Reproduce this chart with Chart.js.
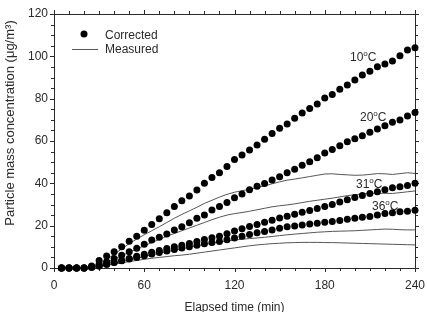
<!DOCTYPE html>
<html>
<head>
<meta charset="utf-8">
<script src="https://cdn.jsdelivr.net/npm/chart.js"></script>
<style>
  html, body { margin: 0; padding: 0; background: #fff; }
  #wrap { width: 427px; height: 312px; position: relative; }
</style>
</head>
<body>
<div id="wrap"><canvas id="chart" width="427" height="312"></canvas></div>
<script>
// Elapsed time (min)
const times = [5, 10, 15, 20, 25, 30, 35, 40, 45, 50, 55, 60, 65, 70, 75, 80, 85, 90, 95, 100,
  105, 110, 115, 120, 125, 130, 135, 140, 145, 150, 155, 160, 165, 170, 175, 180, 185, 190, 195, 200,
  205, 210, 215, 220, 225, 230, 235, 240];

// Corrected concentrations (dots)
const corr10 = [0, 0, 0, 0, 1, 3.5, 5.7, 7.7, 10, 12.6, 15, 17.8, 20.5, 23.3, 26.1, 29, 31.8, 34, 36.8, 40,
  42.8, 45, 47.9, 51.3, 53.4, 55.7, 58.1, 60.8, 63.6, 66, 68, 70.7, 73.2, 75.4, 77.5, 80.3, 82, 84.5, 86.4, 88.8,
  91.2, 93, 95.1, 96.4, 97.8, 100.3, 103, 104];
const corr20 = [0, 0, 0, 0, 0.5, 1.8, 3, 4.5, 6, 7.7, 9.3, 11.2, 13.2, 14.5, 16.1, 18, 19.5, 21.4, 23.5, 25,
  27.4, 29, 30.9, 33.2, 35, 37, 38.6, 39.9, 41.6, 43.1, 45, 46.6, 48.6, 50.2, 52.1, 54.3, 56, 57.8, 59.6, 61.1,
  62.5, 64.1, 65.7, 67.2, 68.8, 69.9, 71.8, 73.5];
const corr31 = [0, 0, 0, 0, 0.3, 1, 1.8, 2.7, 3.6, 4.5, 5.5, 6.5, 7.4, 8.3, 9.2, 10, 10.8, 11.6, 12.5, 13.5,
  14.3, 15, 16.2, 17.5, 18.5, 19.6, 20.6, 21.6, 22.6, 23.6, 24.4, 25.4, 26.3, 27.2, 28.1, 29, 30, 31.2, 32.3, 33.3,
  34.3, 35.2, 36, 37, 37.9, 38.4, 39, 40];
const corr36 = [0, 0, 0, 0, 0.3, 1, 1.8, 2.6, 3.4, 4.2, 5, 5.8, 6.6, 7.3, 8, 8.7, 9.4, 10, 10.7, 11.4,
  12, 12.5, 13.4, 14.2, 15, 15.8, 16.6, 17.3, 18, 18.8, 19.5, 19.9, 20.3, 20.8, 21.2, 21.6, 22, 22.5, 23, 23.5,
  24, 24.3, 25, 25.7, 26.1, 26.6, 26.8, 27.3];

// Measured concentrations (thin lines)
const measA = [0, 0, 0, 0, 0.5, 2, 4, 6.5, 9, 11.5, 13.7, 15.7, 17.6, 19.5, 21.5, 23.5, 25.3, 27, 28.7, 30.5,
  32, 33.5, 34.8, 35.8, 36.5, 37.2, 38, 38.8, 39.8, 40.7, 41.5, 42, 42.6, 43.2, 43.8, 44.4, 44.5, 44.2, 44, 43.8,
  43.9, 44.2, 44.6, 44.5, 44.2, 44.6, 45, 44.7];
const measB = [0, 0, 0, 0, 0.3, 1.3, 2.7, 4.2, 5.8, 7.4, 9, 10.5, 12, 13.5, 15, 16.3, 17.6, 18.9, 20.2, 21.5,
  22.8, 24, 25, 25.7, 26.2, 26.8, 27.5, 28.2, 28.9, 29.4, 29.8, 30.3, 30.9, 31.5, 32, 32.5, 33, 33.6, 34.2, 34.6,
  35, 35.3, 35.3, 35.3, 35.2, 35.6, 36, 36.4];
const measC = [0, 0, 0, 0, 0.2, 0.8, 1.5, 2.3, 3, 3.8, 4.6, 5.4, 6.2, 7, 7.7, 8.4, 9.1, 9.8, 10.5, 11.1,
  11.7, 12.3, 12.8, 13.2, 13.6, 13.9, 14.2, 14.5, 14.9, 15.3, 15.7, 16, 16.3, 16.6, 16.9, 17.1, 17.3, 17.4, 17.5, 17.6,
  17.8, 18, 18.2, 18.4, 18.3, 18.1, 18, 18];
const measD = [0, 0, 0, 0, 0.1, 0.6, 1.2, 1.8, 2.4, 3, 3.6, 4.1, 4.6, 5, 5.4, 5.8, 6.1, 6.5, 7, 7.5,
  8, 8.5, 9, 9.5, 10, 10.5, 10.9, 11.2, 11.5, 11.7, 11.9, 12, 12.1, 12.1, 12.1, 12, 12, 11.9, 11.8, 11.7,
  11.6, 11.5, 11.4, 11.3, 11.2, 11.1, 11, 10.9];

const xTicks = [0, 60, 120, 180, 240];
const yTicks = [0, 20, 40, 60, 80, 100, 120];
const tempLabels = [
  { text: '10', x: 350, y: 61 },
  { text: '20', x: 360, y: 121 },
  { text: '31', x: 356, y: 188 },
  { text: '36', x: 372, y: 210 }
];

const FONT = '"Liberation Sans", Arial, Helvetica, sans-serif';
const INK = '#2a2a2a';

function pts(ys) {
  return times.map((t, i) => ({ x: t, y: ys[i] }));
}
function dotSet(ys) {
  return { data: pts(ys), showLine: false, pointRadius: 3.5, pointBackgroundColor: '#000',
    pointBorderWidth: 0, order: 0, clip: false };
}
function lineSet(ys) {
  return { data: pts(ys), borderColor: '#555', borderWidth: 1, pointRadius: 0, tension: 0,
    order: 1, clip: false };
}

const decorPlugin = {
  id: 'decor',
  beforeDatasetsDraw(chart) {
    const { ctx, chartArea: a, scales: { x, y } } = chart;
    ctx.save();
    ctx.strokeStyle = INK;
    ctx.lineWidth = 1;
    ctx.strokeRect(Math.round(a.left) + 0.5, Math.round(a.top) + 0.5,
      Math.round(a.right - a.left), Math.round(a.bottom - a.top));
    ctx.beginPath();
    // x ticks, every 10 min
    for (let v = 0; v <= 240; v += 10) {
      const px = Math.round(x.getPixelForValue(v)) + 0.5;
      const len = v % 60 === 0 ? 4 : 3;
      ctx.moveTo(px, a.bottom); ctx.lineTo(px, a.bottom + len);
      ctx.moveTo(px, a.top); ctx.lineTo(px, a.top - len);
    }
    // y ticks, every 5 units
    for (let v = 0; v <= 120; v += 5) {
      const py = Math.round(y.getPixelForValue(v)) + 0.5;
      const len = v % 20 === 0 ? 4 : 3;
      ctx.moveTo(a.left, py); ctx.lineTo(a.left - len, py);
      ctx.moveTo(a.right, py); ctx.lineTo(a.right + len, py);
    }
    ctx.stroke();
    ctx.restore();
  },
  afterDraw(chart) {
    const { ctx, chartArea: a } = chart;
    ctx.save();
    ctx.fillStyle = INK;
    ctx.textBaseline = 'alphabetic';

    // legend
    ctx.beginPath();
    ctx.arc(84, 34, 3.5, 0, Math.PI * 2);
    ctx.fillStyle = '#000';
    ctx.fill();
    ctx.strokeStyle = '#555';
    ctx.lineWidth = 1;
    ctx.beginPath();
    ctx.moveTo(72, 49.5); ctx.lineTo(98, 49.5);
    ctx.stroke();
    ctx.fillStyle = INK;
    ctx.font = '12px ' + FONT;
    ctx.textAlign = 'left';
    ctx.fillText('Corrected', 105, 38.5);
    ctx.fillText('Measured', 105, 53);

    // temperature labels
    tempLabels.forEach(l => {
      ctx.font = '12px ' + FONT;
      ctx.fillText(l.text, l.x, l.y);
      let w = ctx.measureText(l.text).width;
      ctx.font = '8px ' + FONT;
      ctx.fillText('o', l.x + w, l.y - 5);
      w += ctx.measureText('o').width;
      ctx.font = '12px ' + FONT;
      ctx.fillText('C', l.x + w, l.y);
    });

    // axis titles
    ctx.font = '12px ' + FONT;
    ctx.textAlign = 'center';
    ctx.fillText('Elapsed time (min)', (a.left + a.right) / 2, 311);
    ctx.font = '13px ' + FONT;
    ctx.translate(14, 123);
    ctx.rotate(-Math.PI / 2);
    ctx.fillText('Particle mass concentration (\u03bcg/m\u00b3)', 0, 0);
    ctx.restore();
  }
};

new Chart(document.getElementById('chart'), {
  type: 'line',
  data: {
    datasets: [dotSet(corr10), dotSet(corr20), dotSet(corr31), dotSet(corr36),
      lineSet(measA), lineSet(measB), lineSet(measC), lineSet(measD)]
  },
  options: {
    responsive: false,
    animation: false,
    devicePixelRatio: 1,
    layout: { padding: { left: 0, right: 12, top: 14, bottom: 0 } },
    plugins: { legend: { display: false }, tooltip: { enabled: false } },
    scales: {
      x: {
        type: 'linear', min: 0, max: 240,
        afterBuildTicks: s => { s.ticks = xTicks.map(v => ({ value: v })); },
        afterFit: s => { s.height = 44; s.paddingLeft = 0; s.paddingRight = 0; },
        grid: { display: false, drawTicks: false },
        border: { display: false },
        ticks: { color: INK, font: { family: FONT, size: 12 }, padding: 10, maxRotation: 0 }
      },
      y: {
        type: 'linear', min: 0, max: 120,
        afterBuildTicks: s => { s.ticks = yTicks.map(v => ({ value: v })); },
        afterFit: s => { s.width = 54; s.paddingTop = 0; s.paddingBottom = 0; },
        grid: { display: false, drawTicks: false },
        border: { display: false },
        ticks: { color: INK, font: { family: FONT, size: 12 }, padding: 6 }
      }
    }
  },
  plugins: [decorPlugin]
});
</script>
</body>
</html>
